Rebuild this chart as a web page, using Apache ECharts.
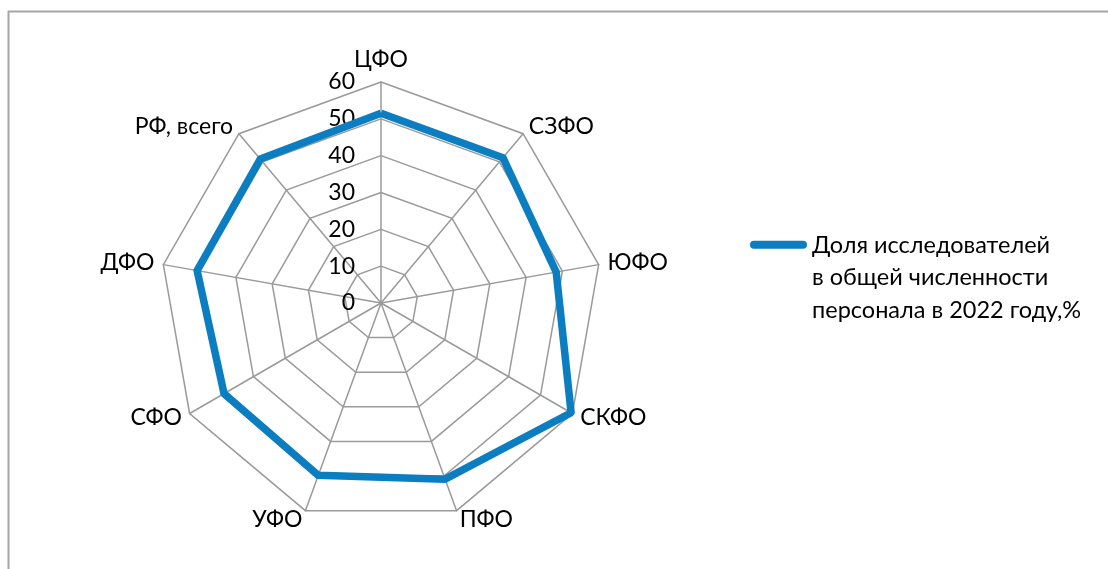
<!DOCTYPE html>
<html>
<head>
<meta charset="utf-8">
<script src="https://cdn.jsdelivr.net/npm/echarts@6/dist/echarts.min.js"></script>
<style>
  html, body { margin: 0; padding: 0; background: #fff; }
  #chart { width: 1108px; height: 569px; }
</style>
</head>
<body>
<div id="chart"></div>
<script>
// округа по часовой стрелке, начиная сверху
const regions = ['ЦФО', 'СЗФО', 'ЮФО', 'СКФО', 'ПФО', 'УФО', 'СФО', 'ДФО', 'РФ, всего']
const shareValues = [51.5, 51.5, 48.3, 59.6, 50.9, 49.8, 49.2, 50.7, 51.0]
const seriesName = 'Доля исследователей\nв общей численности\nперсонала в 2022 году,%'
const axisMax = 60

const font = 'Lato, "Noto Sans", sans-serif'
const gridColor = '#9a9a9a'
const lineColor = '#0b7dc1'

const chart = echarts.init(document.getElementById('chart'))

// радар в echarts идёт против часовой — разворачиваем порядок
const order = [0].concat(regions.map((_, i) => i).slice(1).reverse())

const indicators = order.map((i, k) => {
  const ind = { name: regions[i], max: axisMax, min: 0 }
  if (k === 0) ind.axisLabel = { show: true }
  return ind
})

// значок легенды: толстая линия сверху, невидимая точка внизу,
// чтобы значок стоял напротив первой строки подписи
const legendIcon = 'path://M4,0 L53,0 A4,4 0 0 1 53,8 L4,8 A4,4 0 0 1 4,0 Z ' +
  'M0,73.99 L0.01,74 L0,74 Z M56.99,73.99 L57,74 L56.99,74 Z'

chart.setOption({
  animation: false,
  backgroundColor: '#fff',
  textStyle: { fontFamily: font },
  graphic: [
    {
      type: 'polyline',
      shape: { points: [[8.5, 569], [8.5, 11.5], [1108, 11.5]] },
      style: { stroke: '#a6a6a6', lineWidth: 2, fill: null },
      silent: true
    }
  ],
  legend: {
    left: 750,
    top: 229,
    padding: 0,
    orient: 'vertical',
    itemWidth: 57,
    itemHeight: 74,
    itemGap: 0,
    icon: legendIcon,
    textStyle: {
      fontFamily: font,
      fontSize: 23.5,
      color: '#000',
      lineHeight: 32.5
    },
    data: [seriesName]
  },
  radar: {
    center: [381, 303],
    radius: 221,
    startAngle: 90,
    splitNumber: 6,
    shape: 'polygon',
    axisName: {
      color: '#000',
      fontFamily: font,
      fontSize: 23
    },
    nameGap: 9,
    axisLine: { lineStyle: { color: gridColor, width: 1.5 } },
    splitLine: { lineStyle: { color: gridColor, width: 1.5 } },
    splitArea: { show: false },
    axisTick: { show: false },
    axisLabel: {
      show: false,
      color: '#000',
      fontFamily: font,
      fontSize: 23,
      margin: 26
    },
    indicator: indicators
  },
  series: [
    {
      name: seriesName,
      type: 'radar',
      symbol: 'none',
      lineStyle: { color: lineColor, width: 7.5 },
      itemStyle: { color: lineColor },
      data: [
        { name: seriesName, value: order.map(i => shareValues[i]) }
      ]
    }
  ]
})
</script>
</body>
</html>
